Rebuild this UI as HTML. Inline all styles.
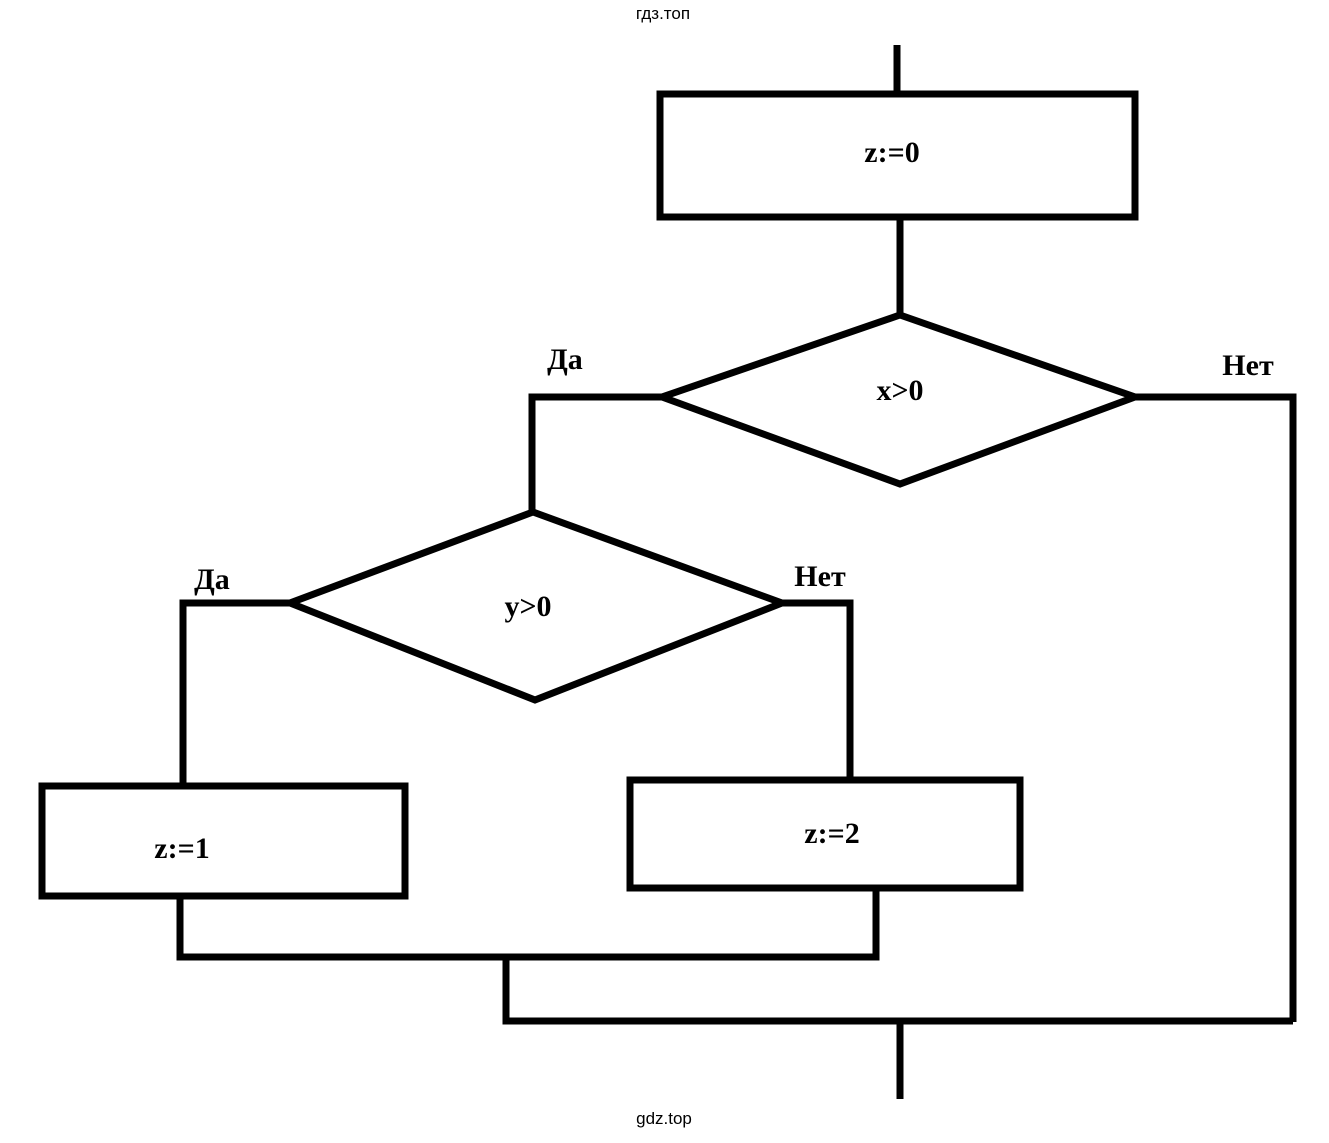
<!DOCTYPE html>
<html><head><meta charset="utf-8"><style>html,body{margin:0;padding:0;background:#fff}</style></head>
<body>
<svg width="1329" height="1138" viewBox="0 0 1329 1138" xmlns="http://www.w3.org/2000/svg">
<g fill="none" stroke="#000" stroke-width="7" stroke-linecap="butt">
<line x1="897" y1="45" x2="897" y2="93"/>
<rect x="660" y="94" width="475" height="123"/>
<line x1="900" y1="217" x2="900" y2="315"/>
<polygon points="900,315 1135,397 900,484 662,397"/>
<polyline points="662,397 532,397 532,512"/>
<polyline points="1135,397 1293,397 1293,1022"/>
<polygon points="533,512 782,603 535,700 290,603"/>
<polyline points="290,603 183,603 183,785"/>
<polyline points="782,603 850,603 850,779"/>
<rect x="42" y="786" width="363" height="110"/>
<rect x="630" y="780" width="390" height="108"/>
<polyline points="180,897 180,957 876,957 876,889"/>
<polyline points="506,957 506,1021 1293,1021"/>
<line x1="900" y1="1021" x2="900" y2="1099"/>
</g>
<g font-family="Liberation Serif, serif" font-weight="bold" font-size="30" fill="#000" text-anchor="middle">
<text x="892" y="162">z:=0</text>
<text x="900" y="400">x&gt;0</text>
<text x="528" y="616">y&gt;0</text>
<text x="182" y="858">z:=1</text>
<text x="832" y="843">z:=2</text>
<text x="565" y="369">Да</text>
<text x="1248" y="375">Нет</text>
<text x="212" y="589">Да</text>
<text x="820" y="586">Нет</text>
</g>
<g font-family="Liberation Sans, sans-serif" font-size="17" fill="#000" text-anchor="middle">
<text x="663" y="19">гдз.топ</text>
<text x="664" y="1124">gdz.top</text>
</g>
</svg>
</body></html>
